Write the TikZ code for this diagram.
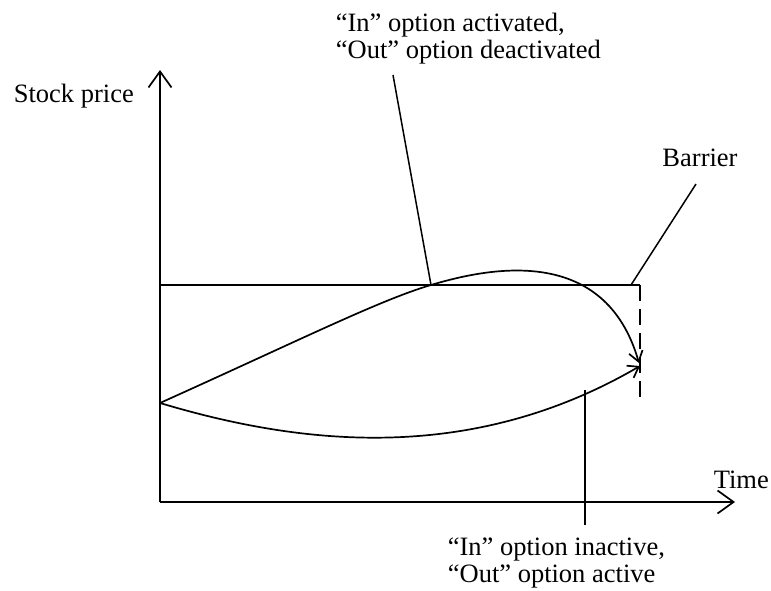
\documentclass[tikz,border=0pt]{standalone}
\usepackage{fontspec}
\setmainfont{Liberation Serif}
\usetikzlibrary{arrows.meta}

\begin{document}
\begin{tikzpicture}[x=1pt, y=-1pt, line width=1.7pt,
    axis/.style={-{Straight Barb[length=16pt, width=23pt, line width=1.7pt]}},
    path arrow/.style={-{Straight Barb[length=10pt, width=14pt, line width=1.7pt]}},
    label text/.style={inner sep=0pt, font=\fontsize{26.5}{27}\selectfont, align=left},
    leader/.style={line width=1.5pt}]
  \useasboundingbox (0,0) rectangle (771,591);

  \coordinate (origin) at (160,502);
  \coordinate (ytip) at (160,70);
  \coordinate (xtip) at (735,502);
  \coordinate (s0) at (160,403);
  \coordinate (b0) at (160,285);
  \coordinate (b1) at (640,285);
  \coordinate (b2) at (640,400);
  \coordinate (hit) at (431,285);
  \coordinate (tip up) at (639,363);
  \coordinate (tip down) at (640,366);
  \coordinate (touch) at (585,390);
  \coordinate (bmark) at (631,285);

  \node[label text, anchor=base west] (price) at (13,103) {Stock price};
  \node[label text, anchor=base west] (time) at (713,488) {Time};
  \node[label text, anchor=base] (barrier) at (700,166) {Barrier};
  \node[label text, anchor=north west] (act) at (335,12)
    {“In” option activated,\\“Out” option deactivated};
  \node[label text, anchor=north west] (inact) at (447,537)
    {“In” option inactive,\\“Out” option active};

  \coordinate (act end) at (393,75);
  \coordinate (bar end) at (696,184);
  \coordinate (inact end) at (585,525);

  \draw[axis] (origin) -- (ytip);
  \draw[axis] (origin) -- (xtip);
  \draw (b0) -- (b1);
  \draw[dash pattern=on 16pt off 8pt] (b1) -- (b2);

  \draw[path arrow] (s0) .. controls (300,340) and (380,300) .. (hit)
    .. controls (491,267) and (605,245) .. (tip up);
  \draw[path arrow] (s0) .. controls (300,445) and (470,465) .. (tip down);

  \draw[leader] (act end) -- (hit);
  \draw[leader] (bar end) -- (bmark);
  \draw[leader] (touch) -- (inact end);
\end{tikzpicture}
\end{document}
